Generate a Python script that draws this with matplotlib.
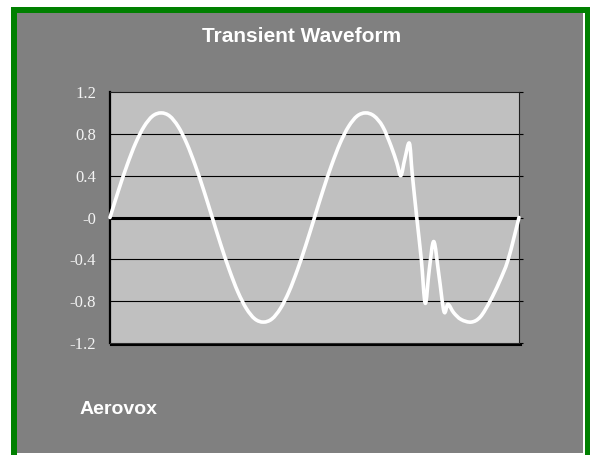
import matplotlib
matplotlib.use("Agg")
import matplotlib.pyplot as plt
from matplotlib.path import Path
from matplotlib.patches import PathPatch, Rectangle
from matplotlib.lines import Line2D

# Waveform samples: phase angle (degrees) and normalised amplitude
phase_deg = [
    0, 15, 30, 45, 60, 75, 90, 105, 120, 135, 150, 165,
    180, 195, 210, 225, 240, 255, 270, 285, 300, 315, 330, 345,
    360, 375, 390, 405, 420, 435, 450, 465, 480, 495,
    505, 512, 519, 527, 532, 540, 548, 555, 562, 570, 579, 588, 595,
    605, 618, 636, 652, 669, 685, 701, 720,
]
amplitude = [
    0.00, 0.26, 0.50, 0.71, 0.87, 0.97, 1.00, 0.97, 0.87, 0.71, 0.50, 0.26,
    0.00, -0.26, -0.50, -0.71, -0.87, -0.97, -1.00, -0.97, -0.87, -0.71, -0.50, -0.26,
    0.00, 0.26, 0.50, 0.71, 0.87, 0.97, 1.00, 0.97, 0.87, 0.68,
    0.52, 0.40, 0.56, 0.71, 0.42, 0.00, -0.40, -0.82, -0.50, -0.23, -0.55, -0.90, -0.83,
    -0.91, -0.975, -1.00, -0.95, -0.80, -0.62, -0.40, 0.00,
]

y_ticks = [-1.2, -0.8, -0.4, 0.0, 0.4, 0.8, 1.2]
y_tick_labels = ["-1.2", "-0.8", "-0.4", "-0", "0.4", "0.8", "1.2"]
grid_levels = [-0.8, -0.4, 0.4, 0.8]

title_text = "Transient Waveform"
footer_text = "Aerovox"

W, H = 590, 455
fig = plt.figure(figsize=(W / 100, H / 100), dpi=100, facecolor="white")


def panel(x0, y0, x1, y1, color, z):
    fig.patches.append(Rectangle((x0 / W, 1 - y1 / H), (x1 - x0) / W, (y1 - y0) / H,
                                 transform=fig.transFigure, facecolor=color,
                                 edgecolor="none", zorder=z))


# green frame, white inner edge, grey chart area
panel(11, 7, 590, 455, "#008000", -30)
panel(17, 13, 585, 455, "#ffffff", -29)
panel(17, 13, 583, 453, "#808080", -28)

ax = fig.add_axes([110 / W, 1 - 343 / H, 409 / W, 251 / H])
ax.set_facecolor("#C0C0C0")
ax.set_xlim(0, 720)
ax.set_ylim(-1.2, 1.2)
ax.set_xticks([])
ax.set_yticks(y_ticks)
ax.set_yticklabels(y_tick_labels, fontfamily="Liberation Serif", fontsize=12, color="#f4f4f4")
ax.tick_params(axis="y", left=False, right=True, labelleft=True, labelright=False,
               length=3, width=0.8, color="black", direction="out", pad=7)

for side in ("top", "right"):
    ax.spines[side].set_linewidth(0.8)
    ax.spines[side].set_color("#202020")
ax.spines["left"].set_linewidth(1.6)
ax.spines["left"].set_color("black")
ax.spines["bottom"].set_linewidth(0.8)
ax.spines["bottom"].set_color("#303030")

for lvl in grid_levels:
    ax.axhline(lvl, color="black", lw=0.8, zorder=1)
ax.axhline(0, color="black", lw=2.2, zorder=2)

# smoothed curve through the samples (cubic Bezier segments)
pts = list(zip(phase_deg, amplitude))
n = len(pts)
verts = [pts[0]]
codes = [Path.MOVETO]
for i in range(n - 1):
    p_prev = pts[i - 1] if i > 0 else pts[i]
    p0 = pts[i]
    p1 = pts[i + 1]
    p_next = pts[i + 2] if i + 2 < n else pts[i + 1]
    c1 = (p0[0] + (p1[0] - p_prev[0]) / 6, p0[1] + (p1[1] - p_prev[1]) / 6)
    c2 = (p1[0] - (p_next[0] - p0[0]) / 6, p1[1] - (p_next[1] - p0[1]) / 6)
    verts += [c1, c2, p1]
    codes += [Path.CURVE4, Path.CURVE4, Path.CURVE4]
curve = PathPatch(Path(verts, codes), facecolor="none", edgecolor="white", lw=2.6,
                  capstyle="round", joinstyle="round", zorder=3, clip_on=False)
ax.add_patch(curve)

# shadow line under the plot area
fig.add_artist(Line2D([111 / W, 521 / W], [1 - 345 / H, 1 - 345 / H],
                      transform=fig.transFigure, color="black", lw=1.5))

fig.text(302 / W, 1 - 37 / H, title_text, ha="center", va="center", color="white",
         fontsize=15, fontweight="bold", fontfamily="Liberation Sans")
fig.text(80 / W, 1 - 414 / H, footer_text, ha="left", va="baseline", color="white",
         fontsize=14, fontweight="bold", fontfamily="Liberation Sans")

fig.savefig("out.png", dpi=100)
